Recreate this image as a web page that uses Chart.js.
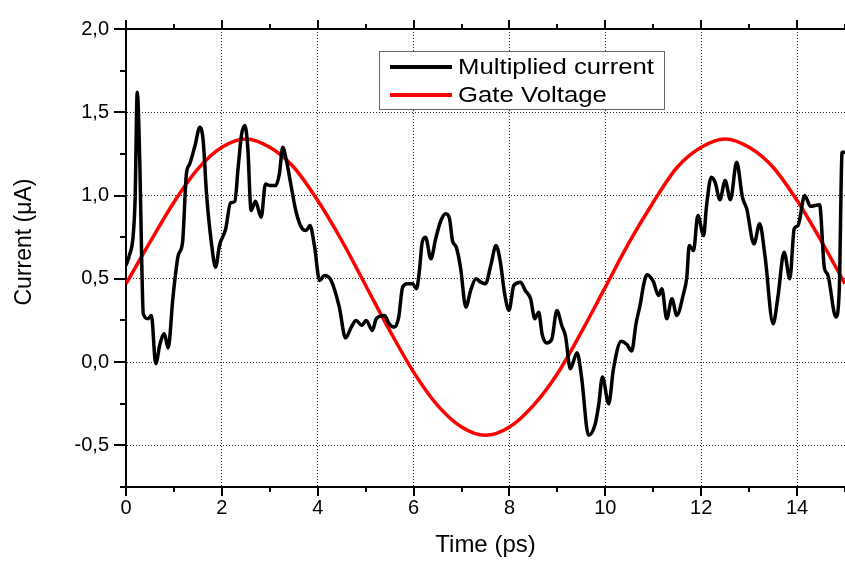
<!DOCTYPE html>
<html>
<head>
<meta charset="utf-8">
<script src="https://cdn.jsdelivr.net/npm/chart.js@4"></script>
<style>
  html, body { margin: 0; padding: 0; background: #fff; }
  #wrap { width: 845px; height: 561px; }
</style>
</head>
<body>
<div id="wrap"><canvas id="chart"></canvas></div>
<script>
// values
const seriesNames = ['Multiplied current', 'Gate Voltage'];

const currentTime = [
  0.00, 0.07, 0.15, 0.19, 0.235, 0.29, 0.33, 0.36, 0.46, 0.53, 0.62, 0.71, 0.80, 0.88, 0.98,
  1.09, 1.18, 1.26, 1.33, 1.44, 1.54, 1.61, 1.68, 1.78, 1.87, 1.95, 2.08, 2.18, 2.27, 2.34,
  2.41, 2.48, 2.54, 2.61, 2.70, 2.82, 2.91, 3.00, 3.12, 3.20, 3.27, 3.34, 3.45, 3.55, 3.68,
  3.76, 3.84, 3.93, 4.04, 4.14, 4.28, 4.45, 4.58, 4.70, 4.80, 4.92, 5.01, 5.14, 5.22, 5.39,
  5.49, 5.60, 5.69, 5.77, 5.87, 5.98, 6.06, 6.12, 6.18, 6.25, 6.36, 6.46, 6.57, 6.67, 6.75,
  6.81, 6.89, 6.98, 7.09, 7.19, 7.30, 7.40, 7.50, 7.61, 7.72, 7.81, 7.90, 7.99, 8.09, 8.23,
  8.33, 8.44, 8.53, 8.61, 8.68, 8.77, 8.88, 8.99, 9.09, 9.17, 9.27, 9.41, 9.50, 9.65, 9.79,
  9.86, 9.94, 10.07, 10.17, 10.33, 10.45, 10.55, 10.64, 10.73, 10.80, 10.87, 11.00, 11.11, 11.18, 11.28,
  11.39, 11.49, 11.63, 11.70, 11.75, 11.84, 11.93, 12.05, 12.11, 12.21, 12.29, 12.39, 12.50, 12.61, 12.74,
  12.86, 12.95, 13.10, 13.22, 13.33, 13.50, 13.60, 13.73, 13.85, 13.94, 14.02, 14.16, 14.28, 14.47, 14.57,
  14.64, 14.81, 14.88, 14.94, 15.00
];
const currentValues = [
  0.58, 0.64, 0.76, 0.98, 1.62, 1.17, 0.58, 0.29, 0.26, 0.28, -0.01, 0.11, 0.17, 0.085, 0.39,
  0.64, 0.72, 1.13, 1.19, 1.30, 1.41, 1.33, 1.01, 0.72, 0.57, 0.70, 0.80, 0.955, 0.965, 1.17,
  1.365, 1.42, 1.29, 0.91, 0.965, 0.87, 1.07, 1.06, 1.06, 1.13, 1.29, 1.22, 1.05, 0.90, 0.80,
  0.79, 0.82, 0.70, 0.49, 0.52, 0.49, 0.33, 0.145, 0.21, 0.25, 0.22, 0.25, 0.19, 0.26, 0.28,
  0.23, 0.21, 0.27, 0.45, 0.47, 0.47, 0.44, 0.545, 0.72, 0.75, 0.62, 0.74, 0.85, 0.89, 0.86,
  0.73, 0.69, 0.565, 0.33, 0.43, 0.50, 0.48, 0.47, 0.58, 0.70, 0.60, 0.41, 0.31, 0.46, 0.48,
  0.43, 0.38, 0.26, 0.30, 0.17, 0.115, 0.135, 0.31, 0.22, 0.155, -0.04, 0.056, -0.08, -0.44, -0.37,
  -0.26, -0.09, -0.25, -0.04, 0.125, 0.105, 0.066, 0.23, 0.35, 0.465, 0.525, 0.485, 0.40, 0.44, 0.26,
  0.38, 0.28, 0.41, 0.51, 0.70, 0.67, 0.88, 0.76, 0.935, 1.11, 1.08, 0.975, 1.09, 0.975, 1.20,
  0.99, 0.92, 0.71, 0.83, 0.64, 0.23, 0.39, 0.66, 0.50, 0.80, 0.82, 1.00, 0.935, 0.945, 0.565,
  0.525, 0.27, 0.43, 1.26, 1.26
];

const gateTime = [
  0, 0.5, 1, 1.5, 2, 2.5, 3, 3.5, 4, 4.5, 5, 5.5, 6, 6.5, 7, 7.5,
  8, 8.5, 9, 9.5, 10, 10.5, 11, 11.5, 12, 12.5, 13, 13.5, 14, 14.5, 15
];
const gateValues = [
  0.47, 0.72, 0.96, 1.16, 1.29, 1.34, 1.29, 1.17, 0.97, 0.73, 0.46, 0.19, -0.06, -0.26, -0.39, -0.44,
  -0.39, -0.26, -0.07, 0.18, 0.45, 0.72, 0.96, 1.17, 1.29, 1.34, 1.29, 1.17, 0.97, 0.73, 0.47
];

const xTicks = [0, 2, 4, 6, 8, 10, 12, 14];
const yTicks = [-0.5, 0, 0.5, 1.0, 1.5, 2.0];

const FONT = 'Liberation Sans, Arial, sans-serif';

// minor/major tick marks, top frame line
const frameTicks = {
  id: 'frameTicks',
  afterDraw(chart) {
    const { ctx, chartArea: a, scales: { x, y } } = chart;
    ctx.save();
    ctx.strokeStyle = '#000';
    ctx.lineWidth = 2;
    ctx.beginPath();
    ctx.moveTo(a.left - 1, a.top);
    ctx.lineTo(a.right, a.top);
    for (let v = x.min; v <= x.max; v += 1) {
      const px = Math.round(x.getPixelForValue(v));
      const len = v % 2 === 0 ? 9 : 5;
      ctx.moveTo(px, a.bottom);
      ctx.lineTo(px, a.bottom + len);
      ctx.moveTo(px, a.top);
      ctx.lineTo(px, a.top - len);
    }
    for (let v = y.min; v <= y.max + 1e-9; v += 0.25) {
      const py = Math.round(y.getPixelForValue(v));
      const major = Math.abs(v * 2 - Math.round(v * 2)) < 1e-9;
      const len = major ? 12 : 6;
      ctx.moveTo(a.left, py);
      ctx.lineTo(a.left - len, py);
    }
    ctx.stroke();
    ctx.restore();
  }
};

// boxed legend inside the plot
const boxLegend = {
  id: 'boxLegend',
  afterDraw(chart) {
    const { ctx } = chart;
    const bx = 379, by = 51, bw = 285, bh = 58;
    ctx.save();
    ctx.fillStyle = '#fff';
    ctx.fillRect(bx, by, bw, bh);
    ctx.strokeStyle = '#666';
    ctx.lineWidth = 1;
    ctx.strokeRect(bx + 0.5, by + 0.5, bw, bh);
    chart.data.datasets.forEach((ds, i) => {
      const ly = by + 16 + i * 28;
      ctx.strokeStyle = ds.borderColor;
      ctx.lineWidth = 4;
      ctx.beginPath();
      ctx.moveTo(bx + 11, ly);
      ctx.lineTo(bx + 73, ly);
      ctx.stroke();
      ctx.fillStyle = '#000';
      ctx.font = '22px ' + FONT;
      ctx.textBaseline = 'middle';
      ctx.save();
      ctx.translate(bx + 79, ly + 1);
      ctx.scale(1.17, 1);
      ctx.fillText(ds.label, 0, 0);
      ctx.restore();
    });
    ctx.restore();
  }
};

const chart = new Chart(document.getElementById('chart'), {
  type: 'line',
  data: {
    datasets: [
      {
        label: seriesNames[0],
        data: currentTime.map((t, i) => ({ x: t, y: currentValues[i] })),
        borderColor: '#000000',
        borderWidth: 3.5,
        pointRadius: 0,
        cubicInterpolationMode: 'monotone'
      },
      {
        label: seriesNames[1],
        data: gateTime.map((t, i) => ({ x: t, y: gateValues[i] })),
        borderColor: '#ff0000',
        borderWidth: 3.5,
        pointRadius: 0,
        cubicInterpolationMode: 'monotone'
      }
    ]
  },
  options: {
    responsive: true,
    maintainAspectRatio: false,
    animation: false,
    layout: { padding: { top: 18, right: 0, left: 0, bottom: 0 } },
    plugins: {
      legend: { display: false },
      tooltip: { enabled: false }
    },
    scales: {
      x: {
        type: 'linear',
        min: 0,
        max: 15,
        afterFit(scale) { scale.height = 74; },
        afterBuildTicks(scale) { scale.ticks = xTicks.map(v => ({ value: v })); },
        ticks: {
          color: '#000',
          padding: 9,
          maxRotation: 0,
          font: { family: FONT, size: 20 },
          callback: v => String(v)
        },
        grid: {
          drawTicks: false,
          color: c => (c.tick && c.tick.value > 0 ? '#222' : 'transparent'),
          lineWidth: 1
        },
        border: { display: true, color: '#000', width: 2, dash: [1, 2] },
        title: {
          display: true,
          text: 'Time (ps)',
          color: '#000',
          font: { family: FONT, size: 24 },
          padding: { top: 0, bottom: 1 }
        }
      },
      y: {
        min: -0.75,
        max: 2.0,
        afterFit(scale) { scale.width = 126; },
        afterBuildTicks(scale) { scale.ticks = yTicks.map(v => ({ value: v })); },
        ticks: {
          color: '#000',
          padding: 17,
          font: { family: FONT, size: 20 },
          callback: v => v.toFixed(1).replace('.', ',')
        },
        grid: {
          drawTicks: false,
          color: c => (c.tick && c.tick.value < 2 ? '#222' : 'transparent'),
          lineWidth: 1
        },
        border: { display: true, color: '#000', width: 2, dash: [1, 2] },
        title: {
          display: true,
          text: '     Current (\u03bcA)',
          color: '#000',
          font: { family: FONT, size: 23 },
          padding: { top: 11, bottom: 0 }
        }
      }
    }
  },
  plugins: [frameTicks, boxLegend]
});
</script>
</body>
</html>
